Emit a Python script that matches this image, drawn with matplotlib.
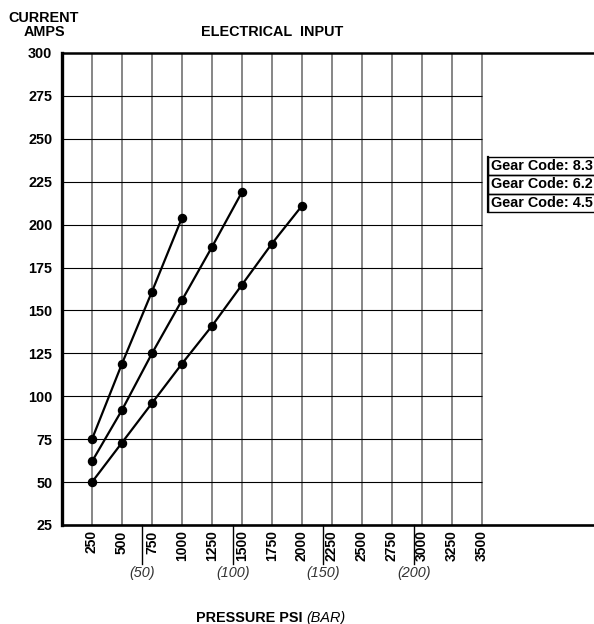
import matplotlib
matplotlib.use("Agg")
import matplotlib.pyplot as plt
from matplotlib.patches import Rectangle

plt.rcParams['font.family'] = ['Liberation Sans', 'DejaVu Sans']

# Data
psi_ticks = [250, 500, 750, 1000, 1250, 1500, 1750, 2000, 2250, 2500, 2750, 3000, 3250, 3500]
amp_ticks = [25, 50, 75, 100, 125, 150, 175, 200, 225, 250, 275, 300]

gear_83_psi = [250, 500, 750, 1000]
gear_83_amps = [75, 119, 161, 204]

gear_62_psi = [250, 500, 750, 1000, 1250, 1500]
gear_62_amps = [62, 92, 125, 156, 187, 219]

gear_45_psi = [250, 500, 750, 1000, 1250, 1500, 1750, 2000]
gear_45_amps = [50, 73, 96, 119, 141, 165, 189, 211]

bar_labels = ['(50)', '(100)', '(150)', '(200)']
bar_psi = [670, 1428, 2175, 2931]

legend_labels = ['Gear Code: 8.3', 'Gear Code: 6.2', 'Gear Code: 4.5']

W, H = 594, 624
fig = plt.figure(figsize=(W / 100, H / 100), dpi=100)
ax = fig.add_axes([62 / W, 1 - 525 / H, 1 - 62 / W, (525 - 53) / H])
ax.set_xlim(0, (W - 62) / 0.12)
ax.set_ylim(25, 300)

# grid only over the 0-3500 region
ax.vlines(psi_ticks, 25, 300, color='#666666', lw=1.1, zorder=1)
ax.hlines(amp_ticks[1:-1], 0, 3500, color='black', lw=0.8, zorder=1)

for xs, ys in [(gear_83_psi, gear_83_amps), (gear_62_psi, gear_62_amps), (gear_45_psi, gear_45_amps)]:
    ax.plot(xs, ys, color='black', lw=1.6, marker='o', markersize=5.8, zorder=3)

# spines
ax.spines['right'].set_visible(False)
ax.spines['left'].set_linewidth(2.4)
ax.spines['top'].set_linewidth(1.8)
ax.spines['bottom'].set_linewidth(1.9)

ax.set_xticks(psi_ticks)
ax.set_xticklabels([str(v) for v in psi_ticks], rotation=90, fontweight='bold', fontsize=10)
ax.set_yticks(amp_ticks)
ax.set_yticklabels([str(v) for v in amp_ticks], fontweight='bold', fontsize=10.4)
ax.tick_params(axis='x', length=0, pad=3.8)
ax.tick_params(axis='y', length=0, pad=7)

# bar scale ticks below the axis
trans = ax.get_xaxis_transform()
for lab, p in zip(bar_labels, bar_psi):
    ax.plot([p, p], [0, -0.0826], color='black', lw=1.0, transform=trans, clip_on=False)
    ax.text(p, -0.1017, lab, transform=trans, ha='center', va='center',
            fontsize=10.4, style='italic', color='#333333')

# titles
fig.text(44 / W, 1 - 25 / H, 'CURRENT\nAMPS', ha='center', va='center',
         fontsize=10.4, fontweight='bold', linespacing=0.95)
fig.text(272 / W, 1 - 32 / H, 'ELECTRICAL  INPUT', ha='center', va='center',
         fontsize=10.4, fontweight='bold')
fig.text(306 / W, 1 - 618 / H, 'PRESSURE PSI ', ha='right', va='center',
         fontsize=10.4, fontweight='bold')
fig.text(306 / W, 1 - 618 / H, '(BAR)', ha='left', va='center',
         fontsize=10.4, style='italic')

# legend boxes
row_tops = [156.5, 175, 193.5]
for lab, top in zip(legend_labels, row_tops):
    fig.patches.append(Rectangle((488 / W, 1 - (top + 18.5) / H), 120 / W, 18.5 / H,
                                 transform=fig.transFigure, fill=False,
                                 edgecolor='black', lw=1.0))
    fig.text(491 / W, 1 - (top + 9.5) / H, lab, ha='left', va='center',
             fontsize=10.4, fontweight='bold')
fig.add_artist(plt.Line2D([488 / W, 488 / W], [1 - 212 / H, 1 - 156.5 / H],
                          transform=fig.transFigure, color='black', lw=1.6))

fig.savefig('out.png', dpi=100)
